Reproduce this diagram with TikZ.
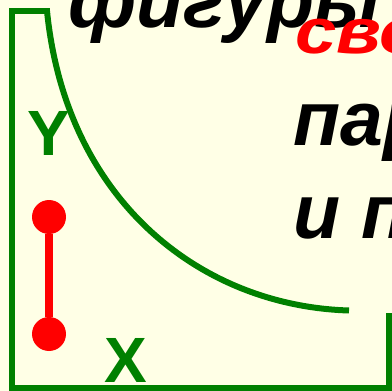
\documentclass[tikz,border=0pt]{standalone}
\usepackage{fontspec}
\setmainfont{Liberation Sans}
\definecolor{paper}{HTML}{FFFFE6}
\definecolor{frame}{HTML}{008000}
\definecolor{seg}{HTML}{FF0000}
\begin{document}
\begin{tikzpicture}[x=1pt, y=-1pt,
    axis/.style={line width=6pt, draw=frame},
    dot/.style={circle, fill=seg, minimum size=34pt, inner sep=0pt},
    word/.style={font=\bfseries\itshape\fontsize{77}{90}\selectfont, anchor=base west, inner sep=0pt},
    letter/.style={font=\bfseries\fontsize{64}{64}\selectfont, text=frame, inner sep=0pt}]
    \useasboundingbox (0,0) rectangle (392,391);
    \fill[paper] (0,0) rectangle (392,391);
    \clip (0,0) rectangle (392,391);

    % frame and curve
    \draw[axis] (50,10.5) -- (12,10.5) -- (12,388) -- (392,388);
    \draw[axis] (388.5,313) -- (388.5,391);
    \draw[axis] (47,11) .. controls (66,200) and (200,306) .. (349,310.5);

    % axis letters
    \node[letter] (ylab) at (49,133) {Y};
    \node[letter] (xlab) at (126,360) {X};

    % red segment
    \node[dot] (top) at (49,217) {};
    \node[dot] (bot) at (49,334) {};
    \draw[seg, line width=8pt] (top) -- (bot);

    % words
    \node[word] (fig) at (68,27) {фигуры};
    \node[word, text=seg, font=\bfseries\itshape\fontsize{64}{70}\selectfont] (svo) at (295,53) {\scalebox{1.16}[1]{сво}};
    \node[word] (par) at (293,145) {пар};
    \node[word] (ip) at (293,238) {и п};
\end{tikzpicture}
\end{document}
